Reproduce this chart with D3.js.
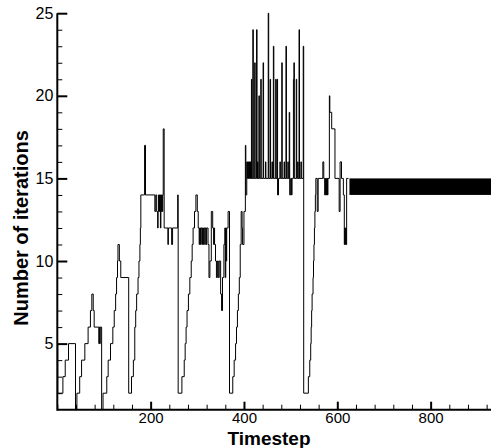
<!DOCTYPE html>
<html>
<head>
<meta charset="utf-8">
<script src="https://cdn.jsdelivr.net/npm/d3@7"></script>
<style>
  body { margin: 0; background: #fff; }
  text { font-family: "Liberation Sans", Arial, Helvetica, sans-serif; }
</style>
</head>
<body>
<div id="chart"></div>
<script>
// change points of the iteration count (value holds until the next timestep listed)
const timesteps = [
  0, 1, 12, 17, 24, 39, 42, 48, 52, 59, 66, 71, 74, 77, 79, 89, 90, 91, 92, 95,
  98, 106, 109, 114, 119, 122, 125, 127, 129, 130, 133, 136, 153,
  159, 163, 166, 168, 170, 173, 175, 177, 178, 179,
  187, 189, 209, 211, 213, 215, 216, 217, 218, 219, 221, 222, 223, 224, 225, 226, 227, 229, 237, 238, 245, 247, 258, 259,
  267, 272, 274, 276, 278, 281, 284, 287, 289, 291, 294, 297, 300, 302,
  304, 305, 307, 308, 310, 311, 313, 314, 316, 317, 319, 320,
  323, 325, 327, 330, 333, 335, 336, 337, 339, 341, 343, 345, 347, 350, 352, 354, 357, 359, 360, 361, 362, 363, 366, 369,
  376, 379, 382, 384, 386, 388, 390, 392, 394, 396, 397, 400, 403, 404, 406, 407, 408, 409, 410, 411, 412, 413, 414, 415,
  416, 417, 419, 420, 423, 424, 427, 428, 429, 430, 432, 433, 436, 437, 441, 442, 446, 447, 452, 453, 456, 457, 460, 461,
  463, 464, 468, 469, 471, 472, 474, 477, 478, 481, 482, 486, 487, 490, 491, 494, 495, 497, 498, 500, 502, 503,
  506, 507, 508, 512, 513, 515, 516, 518, 519, 522, 523, 527, 528,
  538, 541, 543, 544, 545, 546, 548, 549, 550, 551, 552, 553, 554, 557, 559, 569, 571,
  573, 574, 575, 576, 577, 578, 579, 580, 583, 584, 588, 595, 604, 606, 609, 613,
  615, 616, 617, 618, 619, 620, 624
];
const iterations = [
  5, 2, 3, 4, 5, 1, 2, 3, 4, 5, 6, 7, 8, 7, 6, 5, 6, 5, 6, 1,
  2, 3, 4, 5, 6, 7, 8, 9, 10, 11, 10, 9, 2,
  3, 4, 6, 7, 8, 9, 10, 11, 12, 14,
  17, 14, 13, 14, 13, 12, 13, 14, 13, 14, 12, 14, 13, 14, 13, 14, 18, 12, 11, 12, 11, 12, 14, 2,
  3, 4, 5, 6, 7, 8, 9, 10, 11, 12, 13, 14, 13, 12,
  11, 12, 11, 12, 11, 12, 11, 12, 11, 12, 11, 12,
  11, 9, 10, 13, 12, 11, 12, 11, 10, 9, 10, 9, 10, 8, 7, 9, 11, 12, 9, 12, 10, 12, 13, 2,
  3, 4, 5, 6, 7, 8, 9, 11, 13, 12, 11, 13, 17, 14, 16, 15, 16, 15, 16, 15, 16, 15, 16, 15,
  21, 15, 24, 15, 22, 15, 24, 15, 16, 15, 20, 15, 21, 15, 22, 15, 16, 15, 25, 15, 21, 15, 16, 15,
  23, 15, 21, 15, 21, 14, 15, 16, 15, 22, 15, 16, 15, 23, 15, 16, 15, 19, 14, 15, 14, 15,
  21, 22, 15, 21, 15, 16, 15, 24, 15, 16, 15, 23, 2,
  3, 4, 5, 6, 7, 8, 9, 10, 11, 12, 13, 14, 15, 13, 15, 16, 15,
  14, 15, 14, 15, 14, 15, 14, 15, 20, 19, 18, 15, 13, 16, 15, 14,
  11, 12, 11, 12, 11, 15, 15
];
// tail of the run: count alternates between 14 and 15 every step
const bandSteps = [626, 930];
const bandLevels = [14, 15];

const xDomain = [0, 930];
const yDomain = [1, 25];
const xMajorTicks = [200, 400, 600, 800];
const yMajorTicks = [5, 10, 15, 20, 25];
const xTitle = "Timestep";
const yTitle = "Number of iterations";

const width = 491, height = 448;
const plot = { left: 57.3, right: 491.3, top: 13.2, bottom: 409.7 };

const svg = d3.select("#chart")
  .append("svg")
  .attr("width", width)
  .attr("height", height)
  .style("display", "block");

svg.append("rect").attr("width", width).attr("height", height).attr("fill", "#fff");

const x = d3.scaleLinear().domain(xDomain).range([plot.left, plot.right]);
const y = d3.scaleLinear().domain(yDomain).range([plot.bottom, plot.top]);

const xMinor = d3.range(0, xDomain[1] + 1, 40).filter((d) => !xMajorTicks.includes(d));
const yMinor = d3.range(2, yDomain[1] + 1, 1).filter((d) => !yMajorTicks.includes(d));

// minor ticks (inward)
svg.append("g")
  .attr("transform", `translate(0,${plot.bottom})`)
  .call(d3.axisBottom(x).tickValues(xMinor).tickSize(-5).tickSizeOuter(0).tickFormat(""))
  .call((g) => g.select(".domain").remove())
  .call((g) => g.selectAll("line").attr("stroke", "#000").attr("stroke-width", 1));

svg.append("g")
  .attr("transform", `translate(${plot.left},0)`)
  .call(d3.axisLeft(y).tickValues(yMinor).tickSize(-5).tickSizeOuter(0).tickFormat(""))
  .call((g) => g.select(".domain").remove())
  .call((g) => g.selectAll("line").attr("stroke", "#000").attr("stroke-width", 1));

// major ticks + labels
svg.append("g")
  .attr("transform", `translate(0,${plot.bottom})`)
  .call(d3.axisBottom(x).tickValues(xMajorTicks).tickSize(-8).tickSizeOuter(0).tickPadding(3))
  .call((g) => g.select(".domain").remove())
  .call((g) => g.selectAll("line").attr("stroke", "#000").attr("stroke-width", 2))
  .call((g) => g.selectAll("text")
    .attr("fill", "#000")
    .style("font-size", "15px")
    .style("font-family", '"Liberation Sans", Arial, sans-serif'));

svg.append("g")
  .attr("transform", `translate(${plot.left},0)`)
  .call(d3.axisLeft(y).tickValues(yMajorTicks).tickSize(-10).tickSizeOuter(0).tickPadding(4))
  .call((g) => g.select(".domain").remove())
  .call((g) => g.selectAll("line").attr("stroke", "#000").attr("stroke-width", 2))
  .call((g) => g.selectAll("text")
    .attr("fill", "#000")
    .style("font-size", "16px")
    .style("font-family", '"Liberation Sans", Arial, sans-serif'));

// the series
const seriesData = timesteps.map((t, i) => ({ t: t, v: iterations[i] }));

const line = d3.line()
  .x((d) => x(d.t))
  .y((d) => y(d.v))
  .curve(d3.curveStepAfter);

svg.append("path")
  .datum(seriesData)
  .attr("fill", "none")
  .attr("stroke", "#000")
  .attr("stroke-width", 1)
  .attr("d", line);

svg.append("rect")
  .attr("x", x(bandSteps[0]))
  .attr("y", y(bandLevels[1]))
  .attr("width", x(bandSteps[1]) - x(bandSteps[0]))
  .attr("height", y(bandLevels[0]) - y(bandLevels[1]))
  .attr("fill", "#000");

// axis lines
svg.append("line")
  .attr("x1", plot.left).attr("x2", plot.right)
  .attr("y1", plot.bottom).attr("y2", plot.bottom)
  .attr("stroke", "#000").attr("stroke-width", 2);
svg.append("line")
  .attr("x1", plot.left).attr("x2", plot.left)
  .attr("y1", plot.top).attr("y2", plot.bottom + 1)
  .attr("stroke", "#000").attr("stroke-width", 2);

// titles
svg.append("text")
  .attr("x", 269)
  .attr("y", 445)
  .attr("text-anchor", "middle")
  .style("font-size", "19px")
  .style("font-weight", "bold")
  .text(xTitle);

svg.append("text")
  .attr("transform", "translate(28,228) rotate(-90)")
  .attr("text-anchor", "middle")
  .style("font-size", "20px")
  .style("font-weight", "bold")
  .text(yTitle);
</script>
</body>
</html>
